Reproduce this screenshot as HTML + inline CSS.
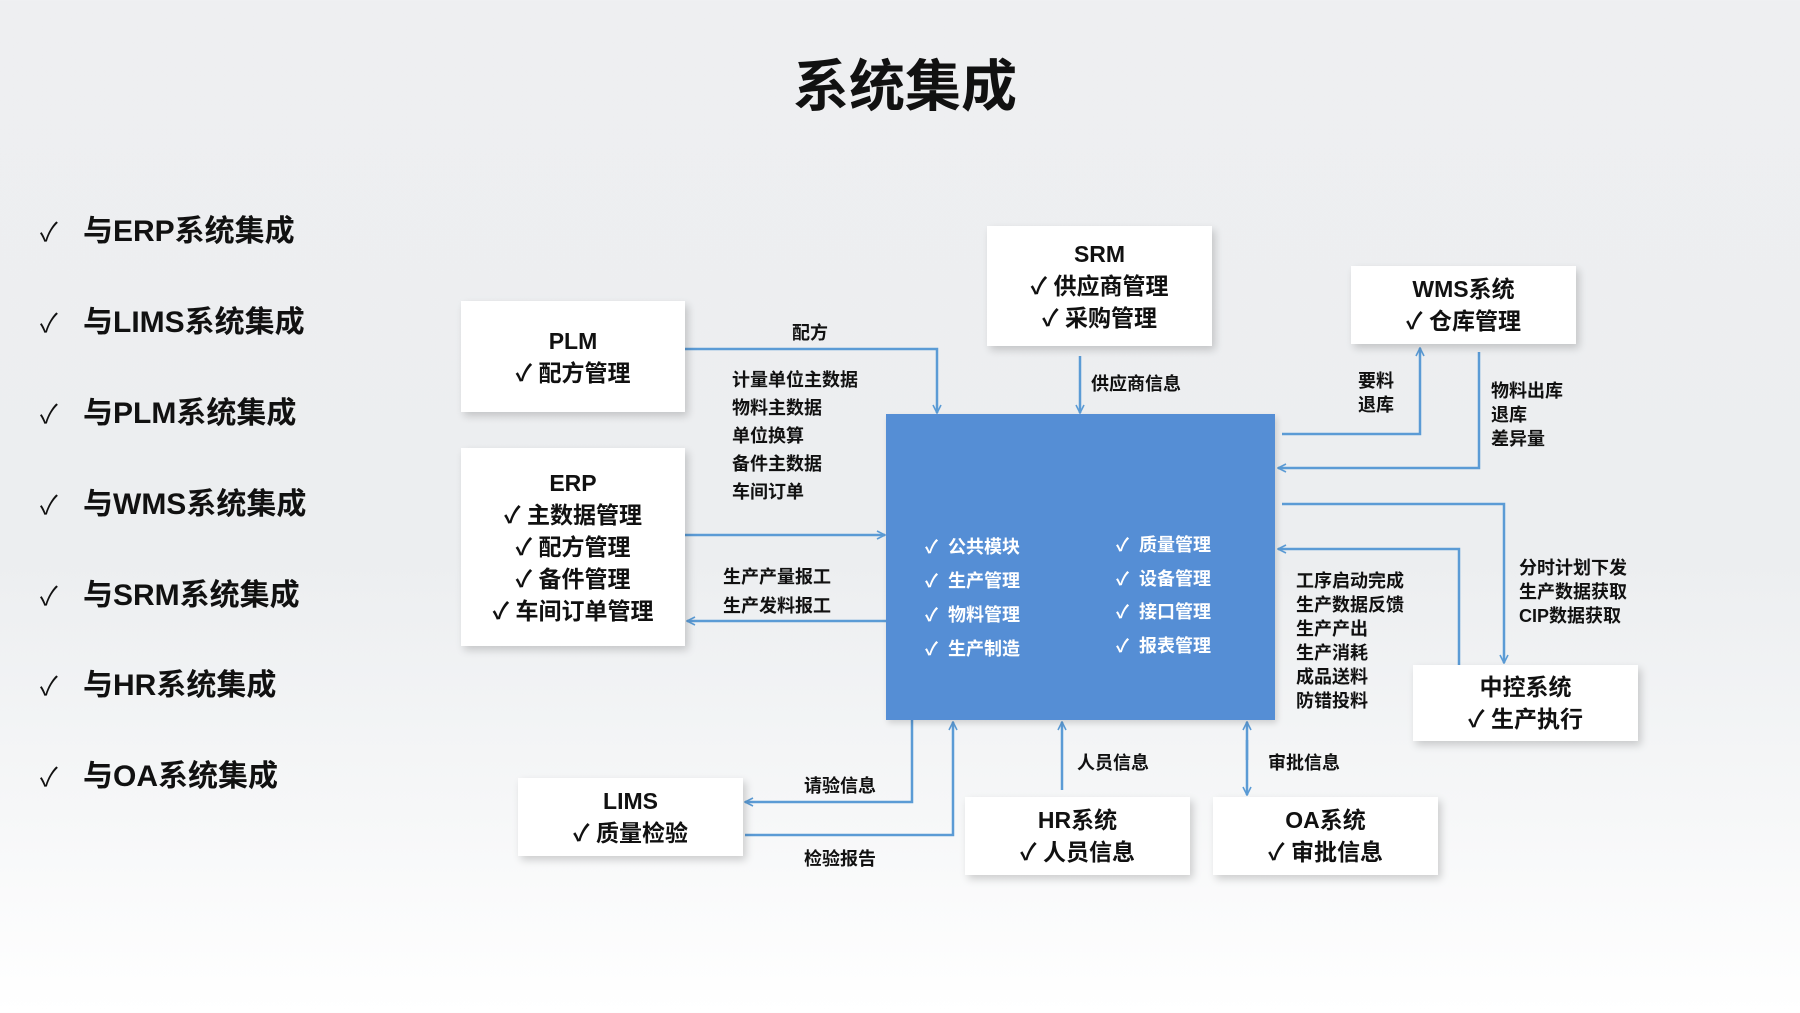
<!DOCTYPE html>
<html><head><meta charset="utf-8"><style>
*{margin:0;padding:0;box-sizing:border-box}
body{width:1800px;height:1013px;overflow:hidden;position:relative;font-family:"Liberation Sans","Noto Sans CJK SC",sans-serif;background:linear-gradient(180deg,#eeeff1 0%,#eceef0 55%,#f6f7f8 80%,#ffffff 100%);color:#111}
.a{position:absolute;white-space:nowrap}
.box{position:absolute;background:#fff;box-shadow:3px 4px 8px rgba(0,0,0,0.18);text-align:center;font-weight:bold;font-size:23px;line-height:32px;display:flex;flex-direction:column;justify-content:center}
.lst{position:absolute;left:40px;font-weight:bold;font-size:30px}
.lst span{display:inline-block;width:43px;font-weight:normal;font-size:26px}
.lb{position:absolute;font-weight:bold;font-size:18px;line-height:24px;white-space:nowrap}
.w{position:absolute;color:#fff;font-weight:bold;font-size:18px;white-space:nowrap}
</style></head><body>
<div class="a" style="left:0;width:1810px;top:42px;text-align:center;font-size:56px;font-weight:bold">系统集成</div>

<div class="lst" style="top:206px"><span>✓</span>与ERP系统集成</div>
<div class="lst" style="top:297px"><span>✓</span>与LIMS系统集成</div>
<div class="lst" style="top:388px"><span>✓</span>与PLM系统集成</div>
<div class="lst" style="top:479px"><span>✓</span>与WMS系统集成</div>
<div class="lst" style="top:570px"><span>✓</span>与SRM系统集成</div>
<div class="lst" style="top:660px"><span>✓</span>与HR系统集成</div>
<div class="lst" style="top:751px"><span>✓</span>与OA系统集成</div>

<svg class="a" style="left:0;top:0" width="1800" height="1013">
<defs><marker id="m" markerWidth="10" markerHeight="10" refX="9" refY="5" orient="auto" markerUnits="userSpaceOnUse"><path d="M1,1 L9,5 L1,9" fill="none" stroke="#5b9bd5" stroke-width="1.6"/></marker></defs>
<g fill="none" stroke="#5b9bd5" stroke-width="2.5">
<polyline points="685,349 937,349 937,413" marker-end="url(#m)"/>
<polyline points="685,535 885,535" marker-end="url(#m)"/>
<polyline points="886,621 687,621" marker-end="url(#m)"/>
<polyline points="1080,356 1080,413" marker-end="url(#m)"/>
<polyline points="1282,434 1420,434 1420,348" marker-end="url(#m)"/>
<polyline points="1479,352 1479,468 1278,468" marker-end="url(#m)"/>
<polyline points="1282,504 1504,504 1504,663" marker-end="url(#m)"/>
<polyline points="1459,665 1459,549 1278,549" marker-end="url(#m)"/>
<polyline points="912,720 912,802 745,802" marker-end="url(#m)"/>
<polyline points="745,835 953,835 953,722" marker-end="url(#m)"/>
<polyline points="1062,790 1062,722" marker-end="url(#m)"/>
<polyline points="1247,760 1247,722" marker-end="url(#m)"/>
<polyline points="1247,740 1247,795" marker-end="url(#m)"/>
</g></svg>

<div class="a" style="left:886px;top:414px;width:389px;height:306px;background:#558ed5;box-shadow:2px 3px 6px rgba(0,0,0,0.15)"></div>
<div class="w" style="left:925px;top:533px">✓ &nbsp;公共模块</div>
<div class="w" style="left:925px;top:567px">✓ &nbsp;生产管理</div>
<div class="w" style="left:925px;top:601px">✓ &nbsp;物料管理</div>
<div class="w" style="left:925px;top:635px">✓ &nbsp;生产制造</div>
<div class="w" style="left:1116px;top:531px">✓ &nbsp;质量管理</div>
<div class="w" style="left:1116px;top:565px">✓ &nbsp;设备管理</div>
<div class="w" style="left:1116px;top:598px">✓ &nbsp;接口管理</div>
<div class="w" style="left:1116px;top:632px">✓ &nbsp;报表管理</div>

<div class="box" style="left:461px;top:301px;width:224px;height:111px"><div>PLM</div><div>✓ 配方管理</div></div>
<div class="box" style="left:461px;top:448px;width:224px;height:198px"><div>ERP</div><div>✓ 主数据管理</div><div>✓ 配方管理</div><div>✓ 备件管理</div><div>✓ 车间订单管理</div></div>
<div class="box" style="left:987px;top:226px;width:225px;height:120px"><div>SRM</div><div>✓ 供应商管理</div><div>✓ 采购管理</div></div>
<div class="box" style="left:1351px;top:266px;width:225px;height:78px"><div>WMS系统</div><div>✓ 仓库管理</div></div>
<div class="box" style="left:1413px;top:665px;width:225px;height:76px"><div>中控系统</div><div>✓ 生产执行</div></div>
<div class="box" style="left:518px;top:778px;width:225px;height:78px"><div>LIMS</div><div>✓ 质量检验</div></div>
<div class="box" style="left:965px;top:797px;width:225px;height:78px"><div>HR系统</div><div>✓ 人员信息</div></div>
<div class="box" style="left:1213px;top:797px;width:225px;height:78px"><div>OA系统</div><div>✓ 审批信息</div></div>

<div class="lb" style="left:792px;top:321px">配方</div>
<div class="lb" style="left:732px;top:366px;line-height:28px">计量单位主数据<br>物料主数据<br>单位换算<br>备件主数据<br>车间订单</div>
<div class="lb" style="left:723px;top:563px;line-height:29px">生产产量报工<br>生产发料报工</div>
<div class="lb" style="left:1091px;top:372px">供应商信息</div>
<div class="lb" style="left:1358px;top:369px">要料<br>退库</div>
<div class="lb" style="left:1491px;top:379px">物料出库<br>退库<br>差异量</div>
<div class="lb" style="left:1519px;top:556px">分时计划下发<br>生产数据获取<br>CIP数据获取</div>
<div class="lb" style="left:1296px;top:569px">工序启动完成<br>生产数据反馈<br>生产产出<br>生产消耗<br>成品送料<br>防错投料</div>
<div class="lb" style="left:804px;top:774px">请验信息</div>
<div class="lb" style="left:804px;top:847px">检验报告</div>
<div class="lb" style="left:1077px;top:751px">人员信息</div>
<div class="lb" style="left:1268px;top:751px">审批信息</div>
</body></html>
